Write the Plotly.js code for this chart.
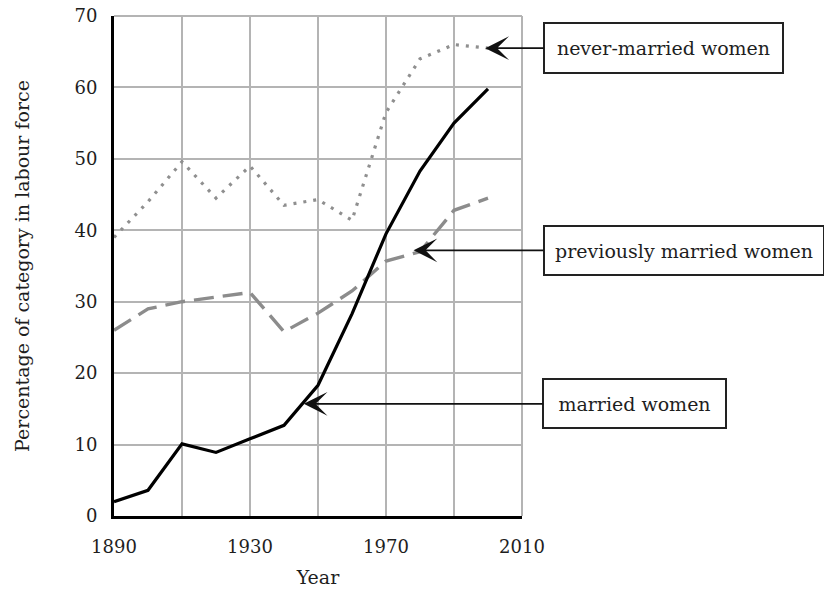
<!DOCTYPE html>
<html>
<head>
<meta charset="utf-8">
<script src="https://cdn.plot.ly/plotly-3.0.1.min.js"></script>
<style>
  html, body { margin: 0; padding: 0; background: #ffffff; }
  #chart { width: 824px; height: 592px; }
</style>
</head>
<body>
<div id="chart"></div>
<script>
// ---- Data ----
const years = [1890, 1900, 1910, 1920, 1930, 1940, 1950, 1960, 1970, 1980, 1990, 2000];
const marriedWomen = [2.0, 3.6, 10.1, 8.9, 10.8, 12.7, 18.3, 28.3, 39.5, 48.3, 55.0, 59.8];
const neverMarriedWomen = [39.0, 44.0, 49.6, 44.5, 49.0, 43.5, 44.3, 41.4, 56.5, 64.0, 66.0, 65.5];
const previouslyMarriedWomen = [26.0, 29.0, 30.0, 30.6, 31.3, 25.8, 28.4, 31.5, 35.7, 37.0, 42.8, 44.5];

const seriesNames = ['never-married women', 'previously married women', 'married women'];

const xTickVals = [1890, 1910, 1930, 1950, 1970, 1990, 2010];
const xTickText = ['1890', '', '1930', '', '1970', '', '2010'];
const yTickVals = [0, 10, 20, 30, 40, 50, 60, 70];
const yTickText = ['0', '10', '20', '30', '40', '50', '60', '70'];

const xTitle = 'Year';
const yTitle = 'Percentage of category in labour force';

// ---- Styling ----
const FONT = '"DejaVu Serif", "Liberation Serif", serif';
const TEXT = '#1e1e1e';
const GRID = '#b4b4b4';

const traces = [
  {
    x: years, y: previouslyMarriedWomen, name: seriesNames[1],
    type: 'scatter', mode: 'lines',
    line: { color: '#8c8c8c', width: 3.4, dash: '20px,9px' }
  },
  {
    x: years, y: neverMarriedWomen, name: seriesNames[0],
    type: 'scatter', mode: 'lines',
    line: { color: '#8f8f8f', width: 3.2, dash: '3px,7px' }
  },
  {
    x: years, y: marriedWomen, name: seriesNames[2],
    type: 'scatter', mode: 'lines',
    line: { color: '#000000', width: 3.2 }
  }
];

function label(text, x, y, ax, w, h) {
  return {
    text: text, x: x, y: y, xref: 'x', yref: 'y',
    ax: ax, ay: 0, axref: 'pixel', ayref: 'pixel',
    showarrow: true, arrowhead: 3, arrowsize: 2.2, arrowwidth: 1.8,
    arrowcolor: '#111111',
    bordercolor: '#222222', borderwidth: 2, borderpad: 0,
    bgcolor: '#ffffff',
    width: w, height: h, align: 'center', valign: 'middle',
    font: { family: FONT, size: 19, color: TEXT }
  };
}

const layout = {
  width: 824, height: 592,
  margin: { l: 114, r: 302, t: 16, b: 76, pad: 0 },
  paper_bgcolor: '#ffffff', plot_bgcolor: '#ffffff',
  showlegend: false,
  font: { family: FONT, color: TEXT, size: 18 },
  xaxis: {
    range: [1890, 2010], autorange: false,
    tickmode: 'array', tickvals: xTickVals, ticktext: xTickText,
    showgrid: true, gridcolor: GRID, gridwidth: 2,
    zeroline: false,
    showline: true, linecolor: '#000000', linewidth: 3,
    ticks: '', ticklabelstandoff: 12,
    tickfont: { family: FONT, size: 18, color: TEXT },
    title: { text: xTitle, font: { family: FONT, size: 19, color: TEXT }, standoff: 16 }
  },
  yaxis: {
    range: [0, 70], autorange: false,
    tickmode: 'array', tickvals: yTickVals, ticktext: yTickText,
    showgrid: true, gridcolor: GRID, gridwidth: 2,
    zeroline: false,
    showline: true, linecolor: '#000000', linewidth: 3,
    ticks: '', ticklabelstandoff: 10,
    tickfont: { family: FONT, size: 18, color: TEXT },
    title: { text: yTitle, font: { family: FONT, size: 19, color: TEXT }, standoff: 40 }
  },
  shapes: [
    { type: 'line', xref: 'paper', yref: 'paper', x0: 0, x1: 1, y0: 1, y1: 1,
      line: { color: GRID, width: 2 }, layer: 'below' },
    { type: 'line', xref: 'paper', yref: 'paper', x0: 1, x1: 1, y0: 0, y1: 1,
      line: { color: GRID, width: 2 }, layer: 'below' }
  ],
  annotations: [
    label(seriesNames[0], 1999.2, 65.5, 178, 237, 48),
    label(seriesNames[1], 1978.1, 37.2, 270, 278, 47),
    label(seriesNames[2], 1945.8, 15.7, 331, 181, 47)
  ]
};

Plotly.newPlot('chart', traces, layout, { staticPlot: true, displayModeBar: false });
</script>
</body>
</html>
